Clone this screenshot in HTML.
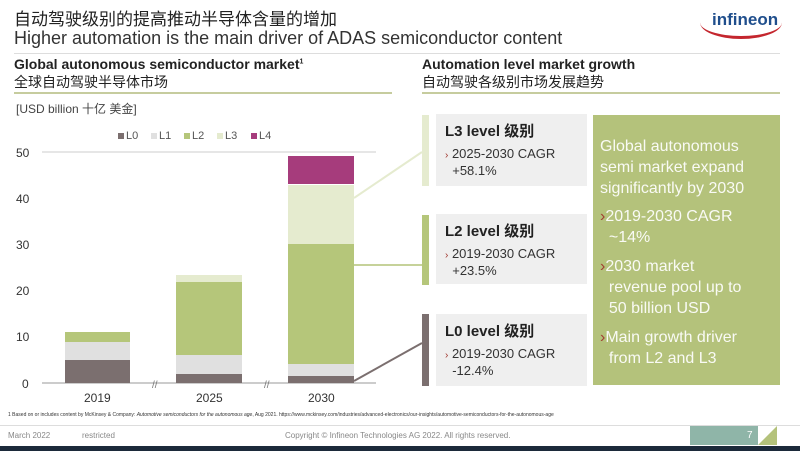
<!DOCTYPE html><html><head><meta charset="utf-8"><style>
body{margin:0;width:800px;height:451px;overflow:hidden;background:#fff;font-family:"Liberation Sans","Noto Sans CJK SC",sans-serif;position:relative;color:#222}
div,span{position:absolute}
.t{white-space:nowrap}
.box{background:#efefef}
.acc{width:7px}
.h{font-weight:bold;font-size:15px}
.b{font-size:13px;line-height:15px;color:#333}
.b i{color:#a0342b;font-style:normal;font-size:10px}
.g{color:#fff;font-size:15px;line-height:17px;opacity:.92}
.g i{color:#a0342b;font-style:normal}
</style></head><body>
<div class="t" style="left:14px;top:5px;font-size:17px;color:#222">自动驾驶级别的提高推动半导体含量的增加</div>
<div class="t" style="left:14px;top:28px;font-size:18px;color:#333">Higher automation is the main driver of ADAS semiconductor content</div>
<div style="left:14px;top:53px;width:766px;height:1px;background:#ddd"></div>
<div class="t" style="left:700px;top:6px;width:82px;height:30px;border-bottom:3px solid #c4262e;border-radius:50%;"></div>
<div class="t" style="left:712px;top:10px;font-size:17px;color:#1f4e8c;font-weight:bold">infineon</div>
<div class="t" style="left:14px;top:56px;font-size:14px;font-weight:bold">Global autonomous semiconductor market<sup style="font-size:7px">1</sup></div>
<div class="t" style="left:14px;top:72px;font-size:14px">全球自动驾驶半导体市场</div>
<div style="left:14px;top:92px;width:378px;height:2px;background:#c6cc9e"></div>
<div class="t" style="left:422px;top:56px;font-size:14px;font-weight:bold">Automation level market growth</div>
<div class="t" style="left:422px;top:72px;font-size:14px">自动驾驶各级别市场发展趋势</div>
<div style="left:422px;top:92px;width:358px;height:2px;background:#c6cc9e"></div>
<div class="t" style="left:16px;top:100px;font-size:12px;color:#444">[USD billion 十亿 美金]</div>
<svg style="position:absolute;left:0;top:0" width="800" height="451">
<g font-family="Liberation Sans" font-size="12" fill="#555">
<rect x="118" y="133" width="6" height="6" fill="#7b6f6f"/><text x="126" y="139" font-size="11">L0</text>
<rect x="151" y="133" width="6" height="6" fill="#e0e0e0"/><text x="159" y="139" font-size="11">L1</text>
<rect x="184" y="133" width="6" height="6" fill="#b5c67a"/><text x="192" y="139" font-size="11">L2</text>
<rect x="217" y="133" width="6" height="6" fill="#e5ebcf"/><text x="225" y="139" font-size="11">L3</text>
<rect x="251" y="133" width="6" height="6" fill="#a63c7c"/><text x="259" y="139" font-size="11">L4</text>
</g>
<g font-family="Liberation Sans" font-size="12" fill="#333">
<text x="16" y="157">50</text><text x="16" y="203">40</text><text x="16" y="249">30</text><text x="16" y="295">20</text><text x="16" y="341">10</text><text x="22" y="388">0</text>
</g>
<line x1="42" y1="152" x2="376" y2="152" stroke="#ccc"/>
<line x1="42" y1="383" x2="376" y2="383" stroke="#bbb" stroke-width="1.5"/>
<rect x="65" y="360" width="65" height="23" fill="#7b6f6f"/>
<rect x="65" y="342" width="65" height="18" fill="#e0e0e0"/>
<rect x="65" y="332" width="65" height="10" fill="#b5c67a"/>
<rect x="176" y="374" width="66" height="9" fill="#7b6f6f"/>
<rect x="176" y="355" width="66" height="19" fill="#e0e0e0"/>
<rect x="176" y="282" width="66" height="73" fill="#b5c67a"/>
<rect x="176" y="275" width="66" height="7" fill="#e5ebcf"/>
<rect x="288" y="376" width="66" height="7" fill="#7b6f6f"/>
<rect x="288" y="364" width="66" height="12" fill="#e0e0e0"/>
<rect x="288" y="244" width="66" height="120" fill="#b5c67a"/>
<rect x="288" y="185" width="66" height="59" fill="#e5ebcf"/>
<rect x="288" y="156" width="66" height="28" fill="#a63c7c"/>
<text x="152" y="388" font-size="10" fill="#777" font-family="Liberation Sans">//</text>
<text x="264" y="388" font-size="10" fill="#777" font-family="Liberation Sans">//</text>
<g font-family="Liberation Sans" font-size="12" fill="#333"><text x="84" y="402">2019</text><text x="196" y="402">2025</text><text x="308" y="402">2030</text></g>
<line x1="354" y1="198" x2="422" y2="152" stroke="#e5ebcf" stroke-width="2"/>
<line x1="354" y1="265" x2="422" y2="265" stroke="#c6d29a" stroke-width="2"/>
<line x1="354" y1="381" x2="422" y2="343" stroke="#7b6f6f" stroke-width="2"/>
</svg>
<div class="acc" style="left:422px;top:115px;height:71px;background:#e5ebcf"></div>
<div class="box" style="left:436px;top:114px;width:151px;height:72px"></div>
<div class="t h" style="left:445px;top:120px">L3 level 级别</div>
<div class="t b" style="left:445px;top:146px"><i>›</i> 2025-2030 CAGR<br>&nbsp;&nbsp;+58.1%</div>
<div class="acc" style="left:422px;top:215px;height:70px;background:#b5c67a"></div>
<div class="box" style="left:436px;top:214px;width:151px;height:70px"></div>
<div class="t h" style="left:445px;top:220px">L2 level 级别</div>
<div class="t b" style="left:445px;top:246px"><i>›</i> 2019-2030 CAGR<br>&nbsp;&nbsp;+23.5%</div>
<div class="acc" style="left:422px;top:314px;height:72px;background:#7b6f6f"></div>
<div class="box" style="left:436px;top:314px;width:151px;height:72px"></div>
<div class="t h" style="left:445px;top:320px">L0 level 级别</div>
<div class="t b" style="left:445px;top:346px"><i>›</i> 2019-2030 CAGR<br>&nbsp;&nbsp;-12.4%</div>
<div style="left:593px;top:115px;width:187px;height:270px;background:#b4c27b"></div>
<div class="g t" style="left:600px;top:136px;line-height:21px;font-size:16px">Global autonomous<br>semi market expand<br>significantly by 2030</div>
<div class="g t" style="left:600px;top:206px;line-height:21px;font-size:16px"><i>›</i>2019-2030 CAGR<br>&nbsp;&nbsp;~14%</div>
<div class="g t" style="left:600px;top:256px;line-height:21px;font-size:16px"><i>›</i>2030 market<br>&nbsp;&nbsp;revenue pool up to<br>&nbsp;&nbsp;50 billion USD</div>
<div class="g t" style="left:600px;top:327px;line-height:21px;font-size:16px"><i>›</i>Main growth driver<br>&nbsp;&nbsp;from L2 and L3</div>
<div class="t" style="left:8px;top:412px;font-size:5px;color:#333">1 Based on or includes content by McKinsey &amp; Company: <i>Automotive semiconductors for the autonomous age</i>, Aug 2021. https://www.mckinsey.com/industries/advanced-electronics/our-insights/automotive-semiconductors-for-the-autonomous-age</div>
<div style="left:0;top:425px;width:800px;height:1px;background:#ddd"></div>
<div class="t" style="left:8px;top:431px;font-size:8px;color:#888">March 2022</div>
<div class="t" style="left:82px;top:431px;font-size:8px;color:#888">restricted</div>
<div class="t" style="left:285px;top:431px;font-size:8px;color:#888">Copyright © Infineon Technologies AG 2022. All rights reserved.</div>
<div style="left:690px;top:426px;width:68px;height:19px;background:#8fb5a8"></div>
<div style="left:758px;top:426px;width:0;height:0;border-bottom:19px solid #b4c27b;border-left:19px solid transparent"></div>
<div class="t" style="left:747px;top:430px;font-size:10px;color:#fff">7</div>
<div style="left:0;top:446px;width:800px;height:5px;background:#1c2a3a"></div>
</body></html>
